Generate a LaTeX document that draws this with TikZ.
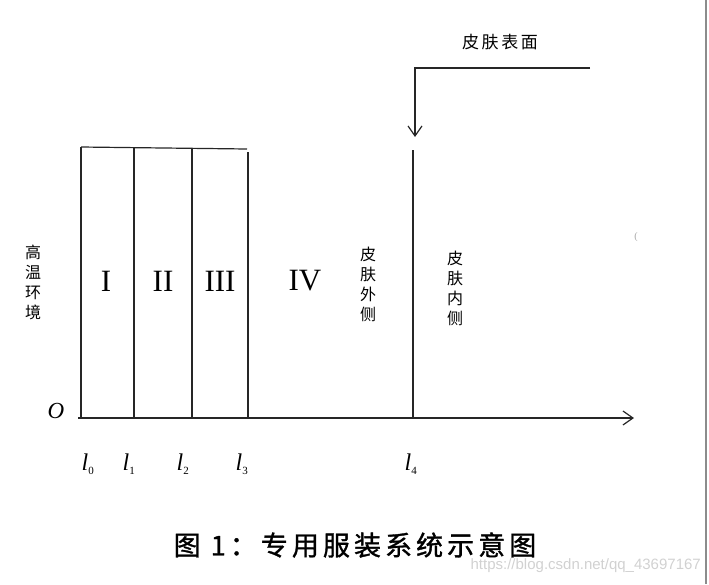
\documentclass[tikz,border=0pt]{standalone}
\usepackage{fontspec}
\setmainfont{Liberation Serif}
\setsansfont{Liberation Sans}
\newfontfamily\cjk{Noto Sans CJK SC}
\newfontfamily\cjkwide{Noto Sans CJK SC}[LetterSpace=15]
\newfontfamily\cjkcaption{Noto Sans CJK SC}[LetterSpace=15,FakeBold=1.2]
\usetikzlibrary{arrows.meta,positioning,calc}
\tikzset{
    wall/.style={draw=black!85,line width=1.2pt},
    tip/.style={-{Straight Barb[length=10pt,width=14pt]}},
    numeral/.style={font=\fontsize{31}{31}\selectfont,inner sep=0pt},
    vlabel/.style={font=\cjk\fontsize{16}{20}\selectfont,align=center,inner sep=0pt},
    poslabel/.style={font=\fontsize{24}{24}\selectfont\itshape,inner sep=0pt}
}
\newcommand\drawwall[3]{%
    \draw [wall] (#1,#2) -- (#1,#3)}
\newcommand\layername[3]{%
    \node [numeral] (#1) at (#2,281) {#3}}
\newcommand\layerpos[3]{%
    \node [poslabel] (#1) at (#2,464) {l\textsubscript{\upshape\fontsize{11}{11}\selectfont #3}}}

\begin{document}
\begin{tikzpicture}[x=1pt,y=-1pt]
    \useasboundingbox (0,0) rectangle (709,584);
    % walls of the layers
    \draw [wall] (81,147) -- (247,149);
    \drawwall{81}{147}{418};
    \drawwall{134}{147}{418};
    \drawwall{192}{148}{418};
    \drawwall{248}{152}{418};
    \drawwall{413}{150}{418};
    % axis
    \coordinate (origin) at (78,418);
    \coordinate (axisend) at (634,418);
    \draw [wall,tip] (origin) -- (axisend);
    % skin surface
    \coordinate (surfstart) at (590,68);
    \coordinate (surftip) at (415,137);
    \draw [wall,tip] (surfstart) -| (surftip);
    \node [font=\cjkwide\fontsize{17}{17}\selectfont,inner sep=0pt] (surface) at (500,42) {皮肤表面};
    % layers
    \layername{one}{106}{I};
    \layername{two}{163}{II};
    \layername{three}{220}{III};
    \layername{four}{305}{IV};
    \node [vlabel] (env) at (33,282) {高\\温\\环\\境};
    \node [vlabel] (outside) at (368,284) {皮\\肤\\外\\侧};
    \node [vlabel] (inside) at (455,288) {皮\\肤\\内\\侧};
    % positions
    \node [poslabel,font=\fontsize{23}{23}\selectfont\itshape] (O) at (56,411) {O};
    \layerpos{l0}{88}{0};
    \layerpos{l1}{129}{1};
    \layerpos{l2}{183}{2};
    \layerpos{l3}{242}{3};
    \layerpos{l4}{411}{4};
    % caption
    \node [font=\cjkcaption\fontsize{27}{27}\selectfont,inner sep=0pt] (caption) at (355,545) {图 1：专用服装系统示意图};
    \node [text=black!35,font=\fontsize{10}{10}\selectfont,inner sep=0pt] (mark) at (636,237) {(};
    \node [text=black!18,font=\sffamily\fontsize{15}{15}\selectfont,inner sep=0pt,anchor=east] (url) at (701,566) {https://blog.csdn.net/qq\_43697167};
    \draw [black!45,line width=2pt] (706,0) -- (706,584);
\end{tikzpicture}
\end{document}
